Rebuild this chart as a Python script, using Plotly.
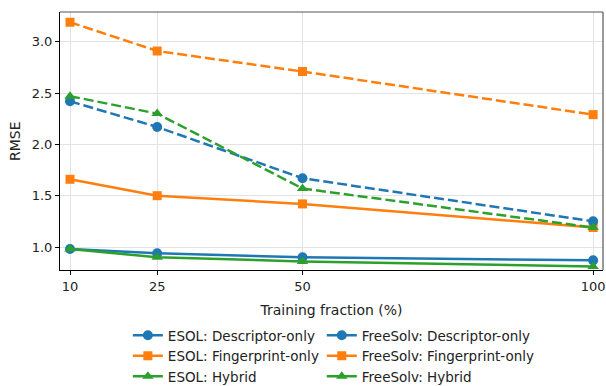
import plotly.graph_objects as go

# Training fractions (%) and RMSE per dataset / feature set
fractions = [10, 25, 50, 100]

esol_descriptor = [0.98, 0.94, 0.90, 0.87]
esol_fingerprint = [1.66, 1.50, 1.42, 1.19]
esol_hybrid = [0.98, 0.90, 0.86, 0.81]

freesolv_descriptor = [2.42, 2.17, 1.67, 1.25]
freesolv_fingerprint = [3.19, 2.91, 2.71, 2.29]
freesolv_hybrid = [2.47, 2.30, 1.57, 1.19]

x_ticks = [10, 25, 50, 100]
y_ticks = [1.0, 1.5, 2.0, 2.5, 3.0]

BLUE, ORANGE, GREEN = "#1f77b4", "#ff7f0e", "#2ca02c"
FONT = "DejaVu Sans"
DASH = "10px,4px"

series = [
    ("ESOL: Descriptor-only", esol_descriptor, BLUE, "circle", "solid", "legend"),
    ("ESOL: Fingerprint-only", esol_fingerprint, ORANGE, "square", "solid", "legend"),
    ("ESOL: Hybrid", esol_hybrid, GREEN, "triangle-up", "solid", "legend"),
    ("FreeSolv: Descriptor-only", freesolv_descriptor, BLUE, "circle", DASH, "legend2"),
    ("FreeSolv: Fingerprint-only", freesolv_fingerprint, ORANGE, "square", DASH, "legend2"),
    ("FreeSolv: Hybrid", freesolv_hybrid, GREEN, "triangle-up", DASH, "legend2"),
]

fig = go.Figure()
for name, ys, color, symbol, dash, leg in series:
    msize = 9 if symbol == "square" else 10
    fig.add_trace(go.Scatter(
        x=fractions, y=ys, name=name, mode="lines+markers",
        line=dict(color=color, width=2.5, dash=dash),
        marker=dict(color=color, symbol=symbol, size=msize, line=dict(width=0)),
        showlegend=False,
    ))
    # legend key with a solid line sample
    fig.add_trace(go.Scatter(
        x=[None], y=[None], name=name, mode="lines+markers",
        line=dict(color=color, width=2.5),
        marker=dict(color=color, symbol=symbol, size=msize, line=dict(width=0)),
        legend=leg, showlegend=True,
    ))

axis_common = dict(
    showgrid=True, gridcolor="#e3e3e3", gridwidth=1,
    showline=True, linecolor="black", linewidth=1,
    ticks="outside", ticklen=4, tickcolor="black",
    tickfont=dict(family=FONT, size=13, color="#222"),
    zeroline=False,
)

legend_common = dict(
    xref="container", yref="container",
    yanchor="top", xanchor="left",
    font=dict(family=FONT, size=13.5, color="#222"),
    bgcolor="rgba(0,0,0,0)", tracegroupgap=0, itemwidth=30,
)

fig.update_layout(
    width=606, height=386,
    margin=dict(l=60, r=3, t=12, b=116, autoexpand=False),
    paper_bgcolor="white", plot_bgcolor="white",
    font=dict(family=FONT, size=13, color="#222"),
    xaxis=dict(
        axis_common, range=[8.28, 101.7], tickvals=x_ticks,
        title=dict(text="Training fraction (%)", font=dict(family=FONT, size=14), standoff=12),
    ),
    yaxis=dict(axis_common, range=[0.776, 3.29], tickvals=y_ticks, tickformat=".1f"),
    legend=dict(legend_common, x=0.211, y=0.171),
    legend2=dict(legend_common, x=0.531, y=0.171),
    annotations=[
        dict(text="RMSE", textangle=-90, xref="paper", yref="paper",
             x=0, y=0.5, xanchor="center", yanchor="middle", xshift=-45,
             showarrow=False, font=dict(family=FONT, size=14, color="#222")),
    ],
    shapes=[
        dict(type="line", xref="paper", yref="paper", x0=0, x1=1, y0=1, y1=1,
             line=dict(color="#555", width=1.2)),
        dict(type="line", xref="paper", yref="paper", x0=1, x1=1, y0=0, y1=1,
             line=dict(color="#555", width=1.2)),
    ],
)

fig.write_html("out.html")
